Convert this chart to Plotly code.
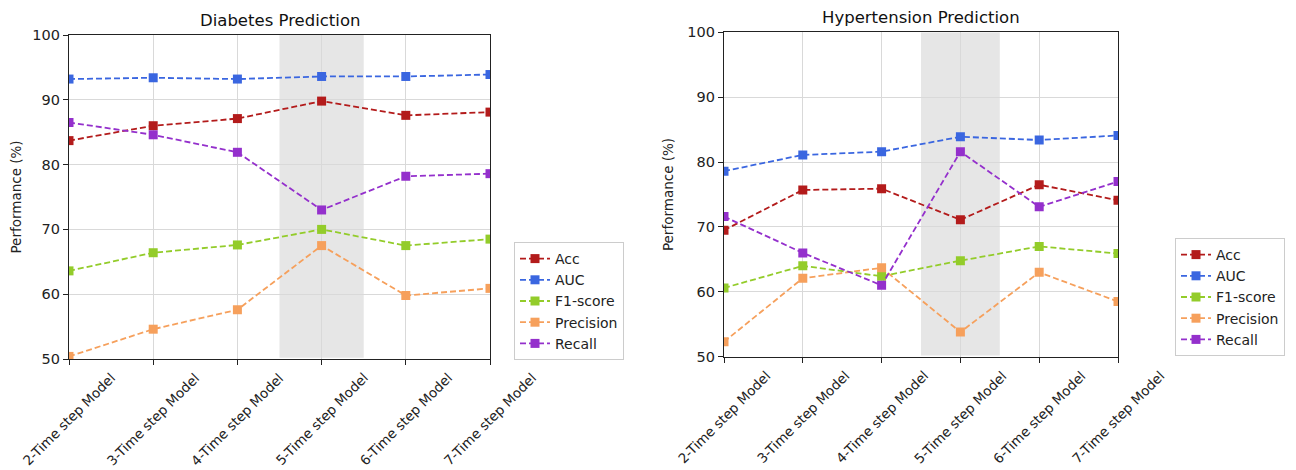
import plotly.graph_objects as go

models = ["2-Time step Model", "3-Time step Model", "4-Time step Model",
          "5-Time step Model", "6-Time step Model", "7-Time step Model"]
metrics = ["Acc", "AUC", "F1-score", "Precision", "Recall"]
colors = ["#b31b1b", "#3a66e0", "#93cc2a", "#f6a05c", "#9430cc"]

diab_acc = [83.7, 86.0, 87.1, 89.8, 87.6, 88.1]
diab_auc = [93.2, 93.4, 93.2, 93.6, 93.6, 93.9]
diab_f1 = [63.6, 66.4, 67.6, 70.0, 67.5, 68.5]
diab_prec = [50.4, 54.6, 57.6, 67.5, 59.8, 60.9]
diab_rec = [86.5, 84.6, 81.9, 73.0, 78.2, 78.6]

hyp_acc = [69.5, 75.7, 75.9, 71.1, 76.5, 74.1]
hyp_auc = [78.6, 81.1, 81.6, 83.9, 83.4, 84.1]
hyp_f1 = [60.6, 64.0, 62.4, 64.8, 67.0, 65.9]
hyp_prec = [52.3, 62.1, 63.7, 53.8, 63.0, 58.5]
hyp_rec = [71.6, 66.0, 61.0, 81.6, 73.1, 77.0]

titles = ["Diabetes Prediction", "Hypertension Prediction"]
y_ticks = [50, 60, 70, 80, 90, 100]

# page body adds ~8px offset; compensate
OX, OY = 8, 8
W, H = 1296 - OX, 470 - OY
FONT = "DejaVu Sans"

panels = [
    dict(data=[diab_acc, diab_auc, diab_f1, diab_prec, diab_rec],
         px=(69, 490), py=(35, 359), legend=(514, 242)),
    dict(data=[hyp_acc, hyp_auc, hyp_f1, hyp_prec, hyp_rec],
         px=(724, 1118), py=(32.3, 356.7), legend=(1175, 238)),
]

fig = go.Figure()
layout = dict(width=W, height=H, margin=dict(l=0, r=0, t=0, b=0),
              paper_bgcolor="white", plot_bgcolor="white",
              font=dict(family=FONT, size=14, color="#222"),
              showlegend=True)
shapes, annotations = [], []

for i, p in enumerate(panels):
    xa = "x" if i == 0 else "x2"
    ya = "y" if i == 0 else "y2"
    lg = "legend" if i == 0 else "legend2"
    for name, vals, c in zip(metrics, p["data"], colors):
        fig.add_trace(go.Scatter(
            x=models, y=vals, name=name, mode="lines+markers",
            line=dict(color=c, width=1.8, dash="6px,3px"),
            marker=dict(symbol="square", size=9, color=c),
            xaxis=xa, yaxis=ya, legend=lg, cliponaxis=True))
    xd = [(p["px"][0] - OX) / W, (p["px"][1] - OX) / W]
    yd = [1 - (p["py"][1] - OY) / H, 1 - (p["py"][0] - OY) / H]
    key = "" if i == 0 else "2"
    layout["xaxis" + key] = dict(
        domain=xd, type="category", categoryorder="array", categoryarray=models,
        range=[0, 5], showgrid=True, gridcolor="#d9d9d9", gridwidth=1,
        showline=True, linecolor="#222", linewidth=1.2, mirror=True,
        ticks="outside", ticklen=5, tickcolor="#222", showticklabels=False,
        anchor=ya, zeroline=False, automargin=False)
    layout["yaxis" + key] = dict(
        domain=yd, range=[50, 100], tickvals=y_ticks, showgrid=True,
        gridcolor="#d9d9d9", gridwidth=1, showline=True, linecolor="#222",
        linewidth=1.2, mirror=True, ticks="outside", ticklen=5, tickcolor="#222",
        tickfont=dict(size=14.5, color="#222"), anchor=xa, zeroline=False,
        automargin=False,
        title=dict(text="Performance (%)", font=dict(size=13.5, color="#222"),
                   standoff=10))
    shapes.append(dict(type="rect", xref=xa, yref=ya, x0=2.5, x1=3.5,
                       y0=50.2, y1=100, fillcolor="#e6e6e6", line_width=0,
                       layer="below"))
    annotations.append(dict(text=titles[i], xref="paper", yref="paper",
                            x=(xd[0] + xd[1]) / 2, y=yd[1], yshift=3,
                            xanchor="center", yanchor="bottom", showarrow=False,
                            font=dict(size=16.5, color="#111")))
    for m in models:
        annotations.append(dict(text=m, xref=xa, yref=ya, x=m, y=50,
                                yshift=-9, xanchor="center", yanchor="top",
                                textangle=-45, showarrow=False, borderpad=0,
                                font=dict(size=13.5, color="#222")))
    layout[lg] = dict(x=(p["legend"][0] - OX) / W, y=1 - (p["legend"][1] - OY) / H,
                      xanchor="left", yanchor="top", bgcolor="white",
                      bordercolor="#cccccc", borderwidth=1,
                      font=dict(size=14, color="#222"),
                      itemwidth=30, tracegroupgap=0)

layout["shapes"] = shapes
layout["annotations"] = annotations
fig.update_layout(**layout)
fig.write_html("out.html")
